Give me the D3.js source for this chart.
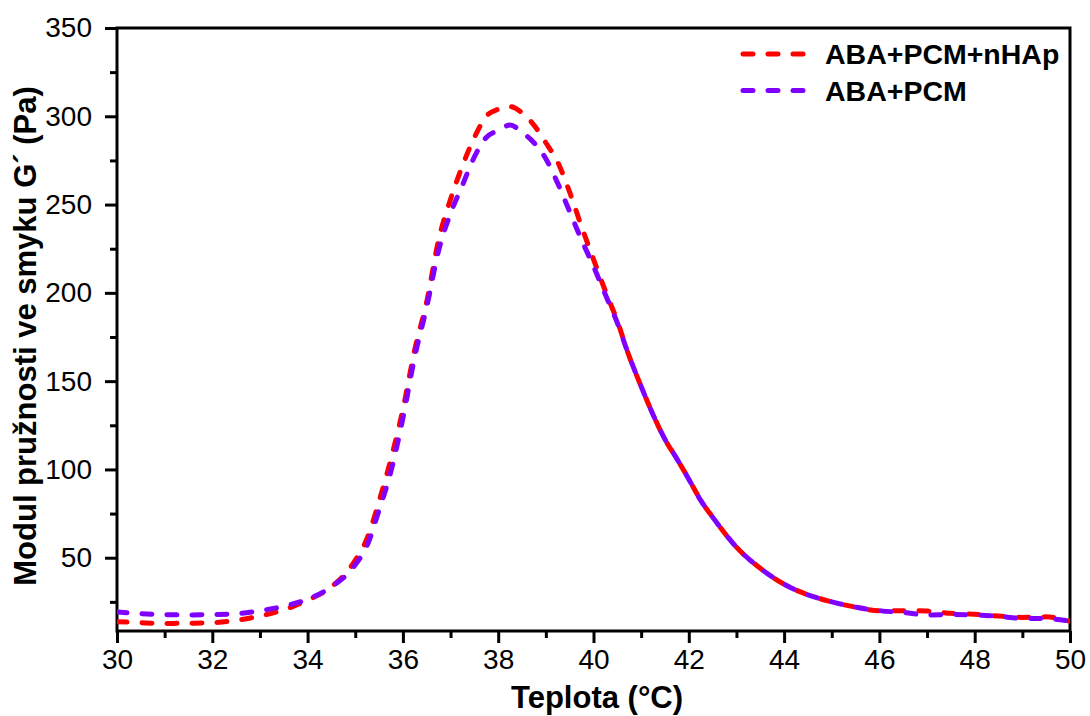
<!DOCTYPE html>
<html>
<head>
<meta charset="utf-8">
<script src="https://cdn.jsdelivr.net/npm/d3@7"></script>
<style>
  html, body { margin: 0; padding: 0; background: #fff; }
  svg { display: block; }
  text { font-family: "Liberation Sans", Arial, sans-serif; fill: #000; }
</style>
</head>
<body>
<svg id="chart" width="1090" height="716"></svg>
<script>
// ---- data ----
const seriesNames = ["ABA+PCM+nHAp", "ABA+PCM"];
const seriesColors = ["#FF0000", "#7F00FF"];

const tempRed = [30, 30.5, 31, 31.5, 32, 32.5, 33, 33.5, 34, 34.5, 35, 35.25, 35.5, 35.75, 36, 36.25, 36.5, 36.75, 37, 37.25, 37.5, 37.75, 38, 38.25, 38.5, 38.75, 39, 39.25, 39.5, 39.75, 40, 40.25, 40.5, 40.75, 41, 41.25, 41.5, 41.75, 42, 42.25, 42.5, 42.75, 43, 43.5, 44, 44.5, 45, 45.5, 46, 46.5, 47, 47.5, 48, 48.5, 49, 49.5, 50];
const gRed = [13.8, 13.2, 12.8, 12.9, 13.2, 14.5, 17.0, 20.5, 26.0, 33.5, 48.5, 61, 82, 106, 134, 168, 195, 230, 253, 272, 288, 300, 304, 305.5, 302, 295, 285, 274, 257, 237.5, 219, 201, 184, 164, 147, 131, 117, 106, 94.5, 82.5, 73, 64, 56, 44, 35, 29, 25, 22, 20, 20, 19.8, 18.5, 18, 17, 16.2, 16.5, 14];

const tempPurple = [30, 30.5, 31, 31.5, 32, 32.5, 33, 33.5, 34, 34.5, 35, 35.25, 35.5, 35.75, 36, 36.25, 36.5, 36.75, 37, 37.25, 37.5, 37.75, 38, 38.25, 38.5, 38.75, 39, 39.25, 39.5, 39.75, 40, 40.25, 40.5, 40.75, 41, 41.25, 41.5, 41.75, 42, 42.25, 42.5, 42.75, 43, 43.5, 44, 44.5, 45, 45.5, 46, 46.5, 47, 47.5, 48, 48.5, 49, 49.5, 50];
const gPurple = [19.3, 18.3, 17.8, 17.6, 17.8, 18.3, 20.0, 22.5, 26.5, 33.5, 46, 57, 77, 99, 129, 164, 192, 224, 245, 261, 277, 288, 292, 295, 291, 285, 276, 262, 246, 230, 215, 199, 183, 164, 147, 131, 117, 106, 94.5, 82.5, 73, 64, 56, 44, 35, 29, 25, 22, 20, 19, 17.6, 17.8, 17.6, 16.8, 15.6, 15.5, 14];

const xTicks = [30, 32, 34, 36, 38, 40, 42, 44, 46, 48, 50];
const xMinorTicks = [31, 33, 35, 37, 39, 41, 43, 45, 47, 49];
const yTicks = [50, 100, 150, 200, 250, 300, 350];
const yMinorTicks = [25, 75, 125, 175, 225, 275, 325];

const xTitle = "Teplota (°C)";
const yTitle = "Modul pružnosti ve smyku G´ (Pa)";

// ---- layout ----
const L = 117, R = 1070, T = 28, B = 631;
const svg = d3.select("#chart");

const x = d3.scaleLinear().domain([30, 50]).range([L, R]);
const y = d3.scaleLinear().domain([8.5, 350]).range([B, T]);

// frame
svg.append("rect")
  .attr("x", L).attr("y", T).attr("width", R - L).attr("height", B - T)
  .attr("fill", "none").attr("stroke", "#000").attr("stroke-width", 3);

// x axis
const xAxis = svg.append("g").attr("transform", `translate(0,${B})`)
  .call(d3.axisBottom(x).tickValues(xTicks).tickSize(12).tickPadding(6).tickFormat(d3.format("d")));
xAxis.select(".domain").remove();
xAxis.selectAll(".tick line").attr("stroke-width", 3);
xAxis.selectAll("text").style("font-size", "28px").style("font-family", "Liberation Sans, Arial, sans-serif");

const xAxisMinor = svg.append("g").attr("transform", `translate(0,${B})`)
  .call(d3.axisBottom(x).tickValues(xMinorTicks).tickSize(7).tickFormat(""));
xAxisMinor.select(".domain").remove();
xAxisMinor.selectAll(".tick line").attr("stroke-width", 3);

// y axis
const yAxis = svg.append("g").attr("transform", `translate(${L},0)`)
  .call(d3.axisLeft(y).tickValues(yTicks).tickSize(12).tickPadding(13).tickFormat(d3.format("d")));
yAxis.select(".domain").remove();
yAxis.selectAll(".tick line").attr("stroke-width", 3);
yAxis.selectAll("text").style("font-size", "28px").style("font-family", "Liberation Sans, Arial, sans-serif");

const yAxisMinor = svg.append("g").attr("transform", `translate(${L},0)`)
  .call(d3.axisLeft(y).tickValues(yMinorTicks).tickSize(7).tickFormat(""));
yAxisMinor.select(".domain").remove();
yAxisMinor.selectAll(".tick line").attr("stroke-width", 3);

// titles
svg.append("text")
  .attr("x", 597).attr("y", 708)
  .attr("text-anchor", "middle")
  .style("font-size", "31px").style("font-weight", "bold")
  .text(xTitle);

svg.append("text")
  .attr("transform", `translate(36,${336}) rotate(-90)`)
  .attr("text-anchor", "middle")
  .style("font-size", "31px").style("font-weight", "bold")
  .text(yTitle);

// lines
svg.append("clipPath").attr("id", "plotclip")
  .append("rect").attr("x", L).attr("y", T).attr("width", R - L).attr("height", B - T);

const line = d3.line().x(d => x(d[0])).y(d => y(d[1])).curve(d3.curveMonotoneX);
const datasets = [
  d3.zip(tempRed, gRed),
  d3.zip(tempPurple, gPurple)
];

datasets.forEach((ds, i) => {
  svg.append("path")
    .datum(ds)
    .attr("d", line)
    .attr("fill", "none")
    .attr("stroke", seriesColors[i])
    .attr("stroke-width", 5)
    .attr("stroke-dasharray", "10,15")
    .attr("stroke-linecap", "round")
    .attr("clip-path", "url(#plotclip)");
});

// legend
const legend = svg.append("g");
seriesNames.forEach((name, i) => {
  const ly = 54 + i * 36.5;
  legend.append("line")
    .attr("x1", 743).attr("x2", 803).attr("y1", ly).attr("y2", ly)
    .attr("stroke", seriesColors[i]).attr("stroke-width", 5)
    .attr("stroke-dasharray", "10,15").attr("stroke-linecap", "round");
  legend.append("text")
    .attr("x", 825).attr("y", ly + 10)
    .style("font-size", "28.5px").style("font-weight", "bold")
    .text(name);
});
</script>
</body>
</html>
